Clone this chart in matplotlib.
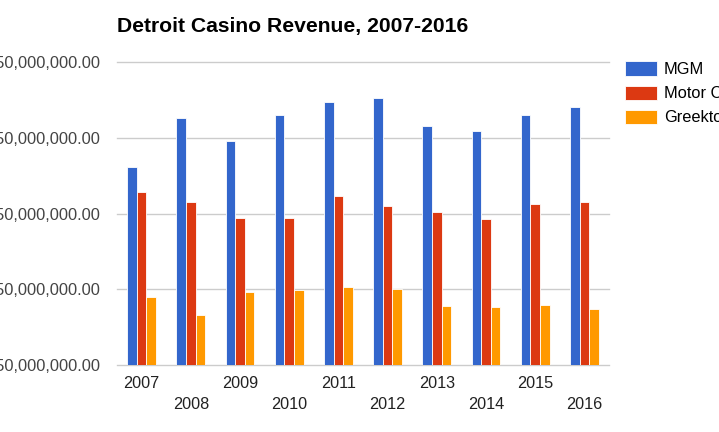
import matplotlib
matplotlib.use("Agg")
import matplotlib.pyplot as plt
import numpy as np
from matplotlib.ticker import FuncFormatter

years = ["2007", "2008", "2009", "2010", "2011", "2012", "2013", "2014", "2015", "2016"]
mgm = [512.4e6, 577.2e6, 546.8e6, 580.4e6, 598.0e6, 602.9e6, 566.3e6, 559.3e6, 580.4e6, 591.0e6]
motor_city = [479.0e6, 465.3e6, 444.7e6, 444.7e6, 473.0e6, 459.8e6, 451.7e6, 442.9e6, 462.3e6, 465.9e6]
greektown = [340.3e6, 316.1e6, 346.0e6, 349.6e6, 352.6e6, 350.9e6, 328.0e6, 326.2e6, 329.4e6, 324.5e6]
series_names = ["MGM", "Motor City", "Greektown"]
colors = ["#3366cc", "#dc3912", "#ff9900"]
y_ticks = [250e6, 350e6, 450e6, 550e6, 650e6]

plt.rcParams['font.family'] = ['Liberation Sans', 'DejaVu Sans']

fig = plt.figure(figsize=(7.19, 4.32), dpi=100)
ax = fig.add_axes([117/719, 1-365/432, (609-117)/719, (365-62.5)/432])

x = np.arange(len(years))
w = 0.195
base = y_ticks[0]
for i, (vals, name, c) in enumerate(zip([mgm, motor_city, greektown], series_names, colors)):
    v = np.array(vals)
    ax.bar(x + (i-1)*w, v - base, bottom=base, width=w, color=c, label=name,
           edgecolor="white", linewidth=0.6, zorder=3)

ax.set_xlim(-0.5, len(years)-0.5)
ax.set_ylim(y_ticks[0], y_ticks[-1])
ax.set_yticks(y_ticks)
ax.yaxis.set_major_formatter(FuncFormatter(lambda v, p: f"{v:,.2f}"))
ax.grid(axis='y', color='#cccccc', linewidth=1, zorder=0)
for gl in ax.get_ygridlines():
    gl.set_clip_on(False)
ax.set_axisbelow(True)
for s in ax.spines.values():
    s.set_visible(False)

ax.set_xticks(x[::2], [years[i] for i in range(0, len(years), 2)])
ax.set_xticks(x[1::2], [years[i] for i in range(1, len(years), 2)], minor=True)
ax.tick_params(axis='x', which='major', length=0, pad=8.0, labelsize=11.7, labelcolor='#222222')
ax.tick_params(axis='x', which='minor', length=0, pad=23.0, labelsize=11.7, labelcolor='#222222')
ax.tick_params(axis='y', length=0, pad=12, labelsize=11.8, labelcolor='#444444')

fig.text(117/719, 1-26.5/432, "Detroit Casino Revenue, 2007-2016", fontsize=15.2,
         fontweight='bold', ha='left', va='center', color='#000000')

ax.legend(loc='upper left', bbox_to_anchor=(625/719, 1-61.5/432), bbox_transform=fig.transFigure,
          frameon=False, fontsize=11.8, handlelength=1.95, handleheight=0.98,
          labelspacing=0.5, handletextpad=0.42, borderpad=0, borderaxespad=0)

fig.savefig("out.png", dpi=100)
